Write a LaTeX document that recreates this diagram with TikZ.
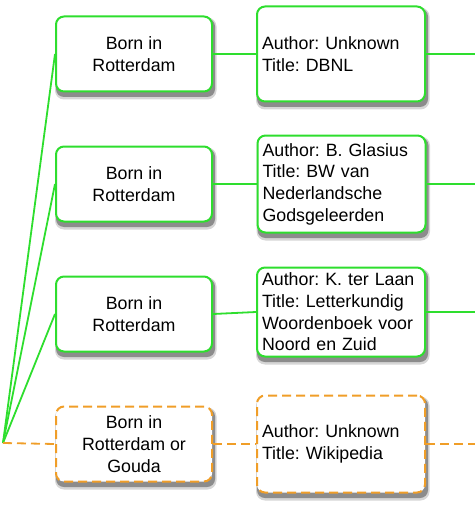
\documentclass[tikz,border=0pt]{standalone}
\usepackage{fontspec}
\setmainfont{Liberation Sans}
\frenchspacing
\usetikzlibrary{backgrounds}
\definecolor{lgreen}{RGB}{46,222,46}
\definecolor{lorange}{RGB}{240,158,40}
\tikzset{
  base/.style={rounded corners=8pt, line width=2pt, fill=white,
    font=\fontsize{17.8}{21.7}\selectfont, inner sep=5pt},
  leftbox/.style={base, minimum width=156pt, minimum height=75pt, align=center},
  rightbox/.style={base, text width=158pt, minimum height=#1, align=left},
  sure/.style={draw=lgreen},
  unsure/.style={draw=lorange, dash pattern=on 9pt off 5pt},
  gline/.style={lgreen, line width=1.8pt},
  oline/.style={lorange, line width=1.8pt, dash pattern=on 9pt off 5pt},
  shadowfar/.style={fill=black!16, rounded corners=9pt},
  shadownear/.style={fill=black!45, rounded corners=8pt},
}
\begin{document}
\begin{tikzpicture}[x=1pt,y=-1pt]
\useasboundingbox (0,0) rectangle (475,508);
\coordinate (root) at (3,443);
\coordinate (e1) at (475,54);
\coordinate (e2) at (475,184);
\coordinate (e3) at (475,312);
\coordinate (e4) at (475,444);

\node[leftbox, sure] (l1) at (134,54) {Born in\\Rotterdam};
\node[leftbox, sure] (l2) at (134,184) {Born in\\Rotterdam};
\node[leftbox, sure] (l3) at (134,314) {Born in\\Rotterdam};
\node[leftbox, unsure] (l4) at (134,444) {Born in\\Rotterdam or\\Gouda};

\node[rightbox=95pt, sure] (r1) at (341,54) {Author: Unknown\\Title: DBNL};
\node[rightbox=97pt, sure] (r2) at (341.5,184) {Author: B. Glasius\\Title: BW van\\Nederlandsche\\Godsgeleerden};
\node[rightbox=89pt, sure] (r3) at (341,312) {Author: K. ter Laan\\Title: Letterkundig\\Woordenboek voor\\Noord en Zuid};
\node[rightbox=97pt, unsure] (r4) at (341,444) {Author: Unknown\\Title: Wikipedia};

\begin{scope}[on background layer]
\foreach \n in {l1,l2,l3,l4,r1,r2,r3,r4}{
  \fill[shadowfar] ([shift={(0,2)}]\n.north west) rectangle ([shift={(3.5,7)}]\n.south east);
  \fill[shadownear] ([shift={(1,3)}]\n.north west) rectangle ([shift={(2,4.5)}]\n.south east);
}
\end{scope}

\draw[gline] (root) -- (l1.west);
\draw[gline] (root) -- (l2.west);
\draw[gline] (root) -- (l3.west);
\draw[oline] (root) -- (l4.west);
\draw[gline] (l1.east) -- (r1.west);
\draw[gline] (l2.east) -- (r2.west);
\draw[gline] (l3.east) -- (r3.west);
\draw[oline] (l4.east) -- (r4.west);
\draw[gline] (r1.east) -- (e1);
\draw[gline] (r2.east) -- (e2);
\draw[gline] (r3.east) -- (e3);
\draw[oline] (r4.east) -- (e4);
\end{tikzpicture}
\end{document}
